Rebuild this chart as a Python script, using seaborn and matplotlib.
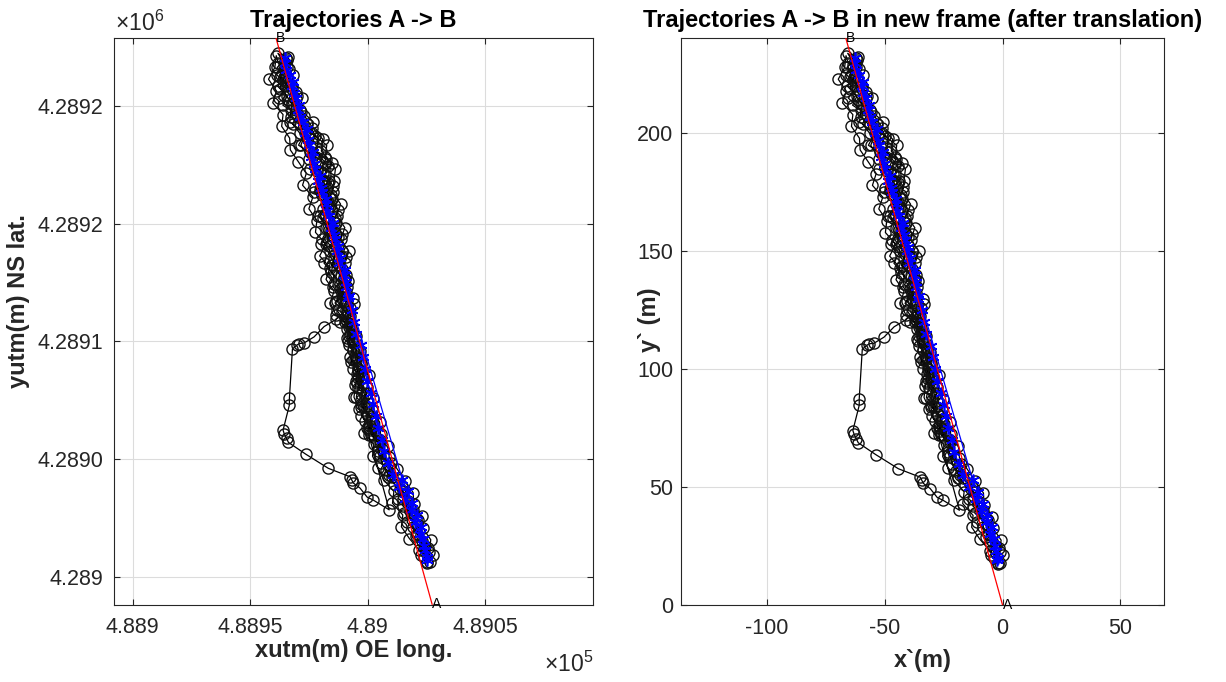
import numpy as np
import pandas as pd
import matplotlib
matplotlib.use("Agg")
import matplotlib.pyplot as plt
import seaborn as sns

# ---------------- data ----------------
# origin A (UTM) and end point B in the translated frame
A_utm = (489027.5, 4288988.3)
B_frame = (-66.5, 240.5)

# black trajectory (several passes), translated frame coordinates (m)
p1_y = [20, 25, 30, 35, 40, 45, 50, 55, 60, 65, 70, 75, 80, 85, 90, 95, 100, 105, 110, 115, 120, 125,
        130, 135, 140, 145, 150, 155, 160, 165, 170, 175, 180, 185, 190, 195, 200, 205, 210, 215, 220, 225, 230]
p1_x = [-3.5, -2.9, -6.3, -10.7, -8.1, -14.4, -12.8, -18.2, -17.6, -23.0, -22.4, -26.7, -26.1, -30.5, -27.9,
        -32.3, -31.7, -32.0, -35.4, -34.8, -37.2, -40.6, -37.9, -42.3, -41.7, -46.1, -43.5, -46.9, -44.2,
        -48.6, -45.0, -50.4, -45.8, -52.2, -49.5, -56.9, -54.3, -60.7, -60.1, -65.4, -61.8, -66.2, -62.6]

p2_y = [232.5, 227.5, 222.5, 217.5, 212.5, 207.5, 202.5, 197.5, 192.5, 187.5, 182.5, 177.5, 172.5, 167.5,
        162.5, 157.5, 152.5, 147.5, 142.5, 137.5, 132.5, 127.5, 122.5, 117.5, 112.5, 107.5, 102.5, 97.5,
        92.5, 87.5, 82.5, 77.5, 72.5, 67.5, 62.5, 57.5, 52.5, 47.5, 42.5, 37.5, 32.5, 27.5, 22.5]
p2_x = [-61.3, -60.9, -63.5, -58.1, -59.8, -54.4, -51.0, -46.6, -47.2, -42.8, -45.5, -42.1, -43.7, -40.3,
        -41.9, -38.5, -40.2, -36.8, -38.4, -36.0, -36.6, -33.3, -34.9, -34.5, -34.1, -30.7, -30.3, -27.0,
        -27.6, -25.2, -25.8, -22.4, -22.0, -18.7, -18.3, -14.9, -11.5, -8.1, -7.8, -4.4, -4.0, -0.6, -1.2]

p3_y = [18, 23, 28, 33, 38, 43, 48, 53, 58, 63, 68, 73, 78, 83, 88, 93, 98, 103, 108, 113, 118, 123, 128,
        133, 138, 143, 148, 153, 158, 163, 168, 173, 178, 183, 188, 193, 198, 203, 208, 213, 218, 223, 228, 233]
p3_x = [-1.0, -5.4, -9.7, -13.1, -12.5, -16.9, -16.3, -20.7, -23.0, -25.4, -24.8, -29.2, -28.6, -31.0,
        -33.3, -32.7, -32.1, -34.5, -33.9, -36.2, -35.6, -41.0, -43.4, -41.8, -45.2, -43.5, -47.9, -45.3,
        -49.7, -49.1, -52.5, -50.8, -55.2, -53.6, -57.0, -60.4, -60.7, -64.1, -63.5, -67.9, -66.3, -69.7,
        -67.0, -66.4]

# pass 4 goes down and then leaves the corridor (the loop)
p4_y = [230, 225, 220, 215, 210, 205, 200, 195, 190, 185, 180, 175, 170, 165, 160, 155, 150, 145, 140,
        135, 130, 125,
        121, 118, 113.6, 111, 110.8, 110.2, 108.5, 87.5, 84.7, 74, 72.5, 70.5, 68.8, 63.8, 57.8, 54.2,
        53, 51.6, 49.4, 45.6, 44.4, 40.2]
p4_x = [-65.6, -59.2, -59.8, -55.4, -56.1, -50.7, -51.3, -44.9, -45.5, -41.2, -41.8, -42.4, -39.0, -40.6,
        -37.2, -38.9, -35.5, -37.1, -36.7, -36.3, -33.9, -36.6,
        -41.0, -46.0, -50.3, -54.6, -56.5, -57.5, -59.5, -60.8, -60.8, -63.5, -63.0, -62.0, -61.2, -53.8,
        -44.2, -34.9, -34.3, -33.6, -30.7, -27.7, -25.2, -18.3]

p5_y = [72, 76, 80, 84, 88, 92, 96, 100, 104, 108, 112, 116, 120, 124, 128, 132, 136, 140, 144, 148, 152,
        156, 160, 164, 168, 172, 176, 180, 184, 188, 192, 196, 200, 204, 208, 212, 216, 220, 224, 228, 232]
p5_x = [-27.0, -27.0, -30.1, -28.2, -32.3, -31.4, -29.5, -33.7, -32.8, -31.9, -36.0, -34.1, -39.2, -36.3,
        -41.4, -37.5, -41.6, -38.7, -42.8, -38.9, -44.0, -40.1, -45.2, -41.3, -46.5, -42.6, -47.7, -43.8,
        -48.9, -47.0, -52.1, -51.2, -56.3, -59.4, -57.5, -63.6, -61.7, -65.8, -62.9, -66.0, -62.1]

p6_y = [229, 224, 219, 214, 209, 204, 199, 194, 189, 184, 179, 174, 169, 164, 159, 154, 149, 144, 139,
        134, 129, 124, 119, 114, 109, 104, 99, 94, 89, 84, 79, 74, 69, 64, 59, 54, 49, 44, 39, 34, 29,
        24, 21, 17.5]
p6_x = [-63.3, -64.9, -59.6, -61.2, -55.8, -56.4, -50.0, -51.6, -45.3, -47.9, -44.5, -47.1, -43.7, -46.3,
        -43.0, -44.6, -41.2, -42.8, -37.4, -39.1, -36.7, -38.3, -34.9, -35.5, -32.1, -33.8, -30.4, -32.0,
        -28.6, -30.2, -25.8, -26.5, -22.1, -22.7, -18.3, -18.9, -13.5, -10.2, -11.8, -6.4, -7.0, -3.6,
        0.2, -2.0]

p7_y = [21, 27, 33, 39, 45, 51, 57, 63, 69, 75, 81, 87, 93, 99, 105, 111, 117, 123, 129, 135, 141, 147,
        153, 159, 165, 171, 177, 183, 189, 195, 201, 207, 213, 219, 225, 231]
p7_x = [-4.8, -4.5, -8.1, -8.8, -12.4, -16.1, -19.8, -22.4, -23.1, -27.7, -27.4, -30.1, -29.7, -31.4,
        -35.0, -33.7, -36.4, -36.0, -40.7, -38.3, -43.0, -41.6, -47.3, -44.0, -47.6, -44.3, -49.9, -46.6,
        -52.3, -55.9, -53.6, -60.2, -59.9, -64.6, -64.2, -61.9]

p8_y = [234, 228, 222, 216, 210, 204, 198, 192, 186, 180, 174, 168, 162, 156, 150, 144, 138, 132, 126,
        120, 114, 108, 102, 96, 90, 84, 78, 72, 66, 60, 54, 48, 42, 36, 30, 24, 18]
p8_x = [-65.7, -62.0, -62.4, -57.7, -58.1, -53.4, -48.7, -49.1, -44.4, -46.8, -43.1, -44.5, -40.8, -42.1,
        -38.5, -39.8, -37.2, -38.5, -34.8, -36.2, -32.5, -33.9, -30.2, -31.5, -27.9, -29.2, -25.6, -25.9,
        -21.2, -21.6, -16.9, -12.3, -12.6, -6.0, -6.3, -1.6, -2.0]

# blue trajectory (up, then down with a gap)
b_up_y = [20, 25, 30, 35, 40, 45, 50, 55, 60, 65, 70, 75, 80, 85, 90, 95, 100, 105, 110, 115, 120, 125,
          130, 135, 140, 145, 150, 155, 160, 165, 170, 175, 180, 185, 190, 195, 200, 205, 210, 215, 220, 225, 230]
b_up_x = [-2.0, -3.4, -5.3, -7.2, -9.1, -11.4, -14.3, -16.7, -18.6, -20.5, -21.4, -23.2, -24.1, -25.0,
          -25.9, -27.8, -28.7, -29.5, -30.4, -32.3, -33.2, -34.1, -35.9, -36.8, -37.7, -39.6, -40.5, -41.4,
          -43.2, -44.1, -45.0, -46.9, -48.8, -49.7, -51.5, -52.4, -54.3, -55.2, -57.1, -57.9, -59.8, -60.7, -62.6]
b_dn_y = [232, 227, 222, 217, 212, 207, 202, 197, 192, 187, 182, 177, 172, 167, 162, 157, 152, 147, 142,
          137, 131, 53, 48, 43, 38, 33, 28, 23, 19]
b_dn_x = [-62.6, -62.3, -59.4, -59.0, -56.6, -56.2, -53.4, -53.0, -50.6, -50.2, -47.8, -47.4, -45.1, -44.7,
          -42.3, -41.9, -40.0, -39.1, -37.3, -36.9, -35.4, -12.7, -10.3, -8.4, -6.5, -4.6, -3.7, -2.9, -2.3]

# axis ticks / labels
utm_xticks = [488900, 488950, 489000, 489050]
utm_xticklabels = ["4.889", "4.8895", "4.89", "4.8905"]
utm_yticks = [4289000, 4289050, 4289100, 4289150, 4289200]
utm_yticklabels = ["4.289", "4.2890", "4.2891", "4.2892", "4.2892"]
frame_xticks = [-100, -50, 0, 50]
frame_yticks = [0, 50, 100, 150, 200]

# ---------------- style ----------------
sns.set_theme(style="white")
plt.rcParams["font.family"] = ["Liberation Sans", "DejaVu Sans"]
plt.rcParams["mathtext.fontset"] = "custom"
plt.rcParams["mathtext.rm"] = "Liberation Sans"
plt.rcParams["mathtext.it"] = "Liberation Sans"

DARK = "#262626"
W, H = 1226, 682
fig = plt.figure(figsize=(W / 100, H / 100), dpi=100)


def px_axes(l, r, t, b):
    return fig.add_axes([l / W, 1 - b / H, (r - l) / W, (b - t) / H])


ax1 = px_axes(114, 593, 38, 604.5)
ax2 = px_axes(681.5, 1164, 38, 605)

black = pd.DataFrame({
    "x": p1_x + p2_x + p3_x + p4_x + p5_x + p6_x + p7_x + p8_x,
    "y": p1_y + p2_y + p3_y + p4_y + p5_y + p6_y + p7_y + p8_y,
})
blue = pd.DataFrame({"x": b_up_x + b_dn_x, "y": b_up_y + b_dn_y})
ab = pd.DataFrame({"x": [0.0, B_frame[0]], "y": [0.0, B_frame[1]]})


def draw(ax, ox, oy):
    bk = black.assign(x=black.x + ox, y=black.y + oy)
    bl = blue.assign(x=blue.x + ox, y=blue.y + oy)
    rl = ab.assign(x=ab.x + ox, y=ab.y + oy)
    sns.lineplot(data=bk, x="x", y="y", sort=False, estimator=None, ax=ax, color="black",
                 linewidth=0.9, marker="o", markersize=8, markerfacecolor="none",
                 markeredgecolor="#111111", markeredgewidth=1.0, zorder=2, legend=False)
    sns.lineplot(data=bl, x="x", y="y", sort=False, estimator=None, ax=ax, color="blue",
                 linewidth=0.9, marker=(6, 2, 0), markersize=8.5, markeredgecolor="blue",
                 markeredgewidth=1.2, zorder=3, legend=False)
    sns.lineplot(data=rl, x="x", y="y", sort=False, estimator=None, ax=ax, color="red",
                 linewidth=0.9, zorder=4, legend=False)
    ax.text(rl.x[0], rl.y[0], "A", fontsize=10, ha="left", va="center", color="black", clip_on=False, zorder=5)
    ax.text(rl.x[1], rl.y[1], "B", fontsize=10, ha="left", va="center", color="black", clip_on=False, zorder=5)


draw(ax1, A_utm[0], A_utm[1])
draw(ax2, 0.0, 0.0)

ax1.set_xlim(488892.0, 489096.0)
ax1.set_ylim(A_utm[1], A_utm[1] + B_frame[1])
ax1.set_xticks(utm_xticks)
ax1.set_xticklabels(utm_xticklabels)
ax1.set_yticks(utm_yticks)
ax1.set_yticklabels(utm_yticklabels)

ax2.set_xlim(-136.2, 68.5)
ax2.set_ylim(0, B_frame[1])
ax2.set_xticks(frame_xticks)
ax2.set_yticks(frame_yticks)
ax2.set_xticklabels([str(v) for v in frame_xticks])
ax2.set_yticklabels([str(v) for v in frame_yticks])

for ax in (ax1, ax2):
    ax.set_axisbelow(True)
    ax.grid(True, color="#dcdcdc", linewidth=0.8)
    for s in ax.spines.values():
        s.set_color(DARK)
        s.set_linewidth(0.8)
        s.set_visible(True)
    ax.tick_params(direction="in", length=4, width=0.8, color=DARK, labelcolor=DARK,
                   labelsize=15.5, top=True, right=True, bottom=True, left=True)
    ax.tick_params(axis="x", pad=9)

ax1.tick_params(axis="y", pad=8)
ax2.tick_params(axis="y", pad=6)

ax1.set_title("Trajectories A -> B", fontsize=17, fontweight="bold", color="black", pad=8)
ax2.set_title("Trajectories A -> B in new frame (after translation)", fontsize=17,
              fontweight="bold", color="black", pad=8)

ax1.set_xlabel("xutm(m) OE long.", fontsize=17, fontweight="bold", color=DARK)
ax1.set_ylabel("yutm(m) NS lat.", fontsize=17, fontweight="bold", color=DARK)
ax2.set_xlabel("x`(m)", fontsize=17, fontweight="bold", color=DARK)
ax2.set_ylabel("y` (m)", fontsize=17, fontweight="bold", color=DARK)
for ax in (ax1, ax2):
    ax.xaxis.label.set_va("center")
    ax.yaxis.label.set_va("center")
ax1.xaxis.set_label_coords(0.5, (604.5 - 650) / 566.5)
ax1.yaxis.set_label_coords((19 - 114) / 479, (604.5 - 301) / 566.5)
ax2.xaxis.set_label_coords(0.5, (605 - 660) / 567)
ax2.yaxis.set_label_coords((650 - 681.5) / 482.5, 0.503)

fig.text(115 / W, 1 - 31 / H, r"$\mathregular{\times10^{6}}$", fontsize=16.5, color=DARK,
         ha="left", va="baseline")
fig.text(593 / W, 1 - 672 / H, r"$\mathregular{\times10^{5}}$", fontsize=16.5, color=DARK,
         ha="right", va="baseline")

fig.savefig("out.png", dpi=100, facecolor="white")
